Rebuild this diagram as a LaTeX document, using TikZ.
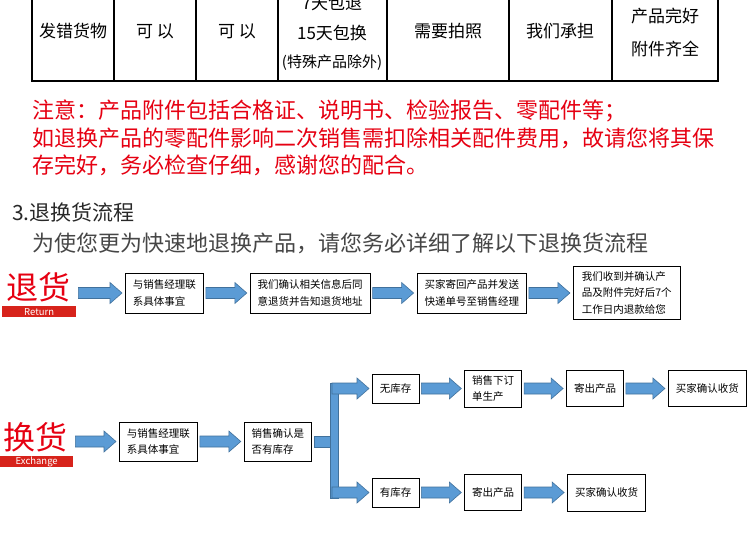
\documentclass[tikz,border=0pt]{standalone}
\usepackage{fontspec}
\setmainfont{Noto Sans CJK SC}
\usetikzlibrary{positioning, calc}
\definecolor{noteRed}{RGB}{230,0,18}
\definecolor{tagRed}{RGB}{215,35,27}
\definecolor{flowBlue}{RGB}{91,155,213}
\definecolor{flowEdge}{RGB}{65,113,156}
\definecolor{headGray}{RGB}{40,40,40}
\definecolor{subGray}{RGB}{70,70,70}
\tikzset{
    tableline/.style={line width=1.8pt},
    cell/.style={inner sep=0pt, font=\fontsize{17}{20}\selectfont},
    stepbox/.style={draw, line width=0.8pt, align=left, inner xsep=7.5pt, inner ysep=5pt, minimum height=40pt, font=\fontsize{10.5}{16.5}\selectfont},
    fatarrow/.style={fill=flowBlue, draw=flowEdge, line width=0.6pt, line join=miter},
    bigtag/.style={text=noteRed, inner sep=0pt, font=\fontsize{32}{32}\selectfont},
    smalltag/.style={fill=tagRed, text=white, inner sep=0pt, anchor=north west, minimum height=11pt, font=\fontsize{9.5}{10}\selectfont}
}
\newcommand{\fatarrow}[2]{%
    \path[fatarrow] let \p1=#1, \p2=#2 in
        (\x1+2pt,\y2+5.5pt) -- (\x2-15pt,\y2+5.5pt) -- (\x2-15pt,\y2+10.5pt) -- (\x2-3pt,\y2)
        -- (\x2-15pt,\y2-10.5pt) -- (\x2-15pt,\y2-5.5pt) -- (\x1+2pt,\y2-5.5pt) -- cycle;}

\begin{document}
\begin{tikzpicture}[x=1pt, y=-1pt]
    \clip (0,0) rectangle (750,546);
    \fill[white] (0,0) rectangle (750,546);

    \foreach \x in {32,114,196,278,387,509,612,718}
        \draw[tableline] (\x,-5) -- (\x,81);
    \draw[tableline] (31.1,81) -- (718.9,81);
    \node[cell] (c1) at (73,31) {发错货物};
    \node[cell] (c2) at (155,31) {可 以};
    \node[cell] (c3) at (237,31) {可 以};
    \node[cell] (c4a) at (332,3) {7天包退};
    \node[cell] (c4b) at (332,33) {15天包换};
    \node[cell, font=\fontsize{15}{16}\selectfont] (c4c) at (332,63) {(特殊产品除外)};
    \node[cell] (c5) at (448,31) {需要拍照};
    \node[cell] (c6) at (560,31) {我们承担};
    \node[cell] (c7a) at (665,16) {产品完好};
    \node[cell] (c7b) at (665,49) {附件齐全};

    \node[anchor=west, align=left, inner sep=0pt, text=noteRed, font=\fontsize{22}{27.5}\selectfont] (notes) at (32,138)
        {注意：产品附件包括合格证、说明书、检验报告、零配件等；\\如退换产品的零配件影响二次销售需扣除相关配件费用，故请您将其保\\存完好，务必检查仔细，感谢您的配合。};
    \node[anchor=west, inner sep=0pt, text=headGray, font=\fontsize{21}{21}\selectfont] (title) at (12,212) {3.退换货流程};
    \node[anchor=west, inner sep=0pt, text=subGray, font=\fontsize{22}{22}\selectfont] (intro) at (32,243) {为使您更为快速地退换产品，请您务必详细了解以下退换货流程};

    \node[bigtag] (rettag) at (38,287) {退货};
    \node[smalltag, minimum width=74pt] (retbar) at (2,306) {Return};
    \node[stepbox, anchor=west] (rbox1) at (125,293) {与销售经理联\\系具体事宜};
    \node[stepbox, right=46pt of rbox1] (rbox2) {我们确认相关信息后同\\意退货并告知退货地址};
    \node[stepbox, right=46pt of rbox2] (rbox3) {买家寄回产品并发送\\快递单号至销售经理};
    \node[stepbox, right=46pt of rbox3, minimum width=107pt] (rbox4) {我们收到并确认产\\品及附件完好后7个\\工作日内退款给您};
    \fatarrow{(retbar.east)}{(rbox1.west)}
    \fatarrow{(rbox1.east)}{(rbox2.west)}
    \fatarrow{(rbox2.east)}{(rbox3.west)}
    \fatarrow{(rbox3.east)}{(rbox4.west)}

    \node[bigtag] (extag) at (35,437) {换货};
    \node[smalltag, minimum width=73pt] (exbar) at (0,456) {Exchange};
    \node[stepbox, anchor=west, minimum height=39pt] (xbox1) at (119,441.5) {与销售经理联\\系具体事宜};
    \node[stepbox, right=46pt of xbox1, minimum height=39pt] (xbox2) {销售确认是\\否有库存};
    \node[stepbox, anchor=west, minimum height=29pt] (nostock) at (372,388.5) {无库存};
    \node[stepbox, right=45pt of nostock, minimum height=37pt] (order) {销售下订\\单生产};
    \node[stepbox, right=44pt of order, minimum height=36pt] (shipA) {寄出产品};
    \node[stepbox, right=44pt of shipA, minimum height=36pt] (recvA) {买家确认收货};
    \node[stepbox, anchor=west, minimum height=29pt] (stock) at (372,492.5) {有库存};
    \node[stepbox, right=45pt of stock, minimum height=36pt] (shipB) {寄出产品};
    \node[stepbox, right=45pt of shipB, minimum height=37pt] (recvB) {买家确认收货};
    \coordinate (forktop) at (330,388.5);
    \coordinate (forkbot) at (330,492.5);
    \fatarrow{(exbar.east)}{(xbox1.west)}
    \fatarrow{(xbox1.east)}{(xbox2.west)}
    \path[fatarrow] let \p1=(xbox2.east), \p2=(forktop) in (\x1+2pt,\y1+5.5pt) rectangle (\x2+8pt,\y1-5.5pt);
    \path[fatarrow] let \p1=(forktop), \p2=(forkbot) in (\x1,\y1+5.5pt) rectangle (\x1+8pt,\y2-5.5pt);
    \fatarrow{(forktop)}{(nostock.west)}
    \fatarrow{(forkbot)}{(stock.west)}
    \fatarrow{(nostock.east)}{(order.west)}
    \fatarrow{(order.east)}{(shipA.west)}
    \fatarrow{(shipA.east)}{(recvA.west)}
    \fatarrow{(stock.east)}{(shipB.west)}
    \fatarrow{(shipB.east)}{(recvB.west)}
\end{tikzpicture}
\end{document}
